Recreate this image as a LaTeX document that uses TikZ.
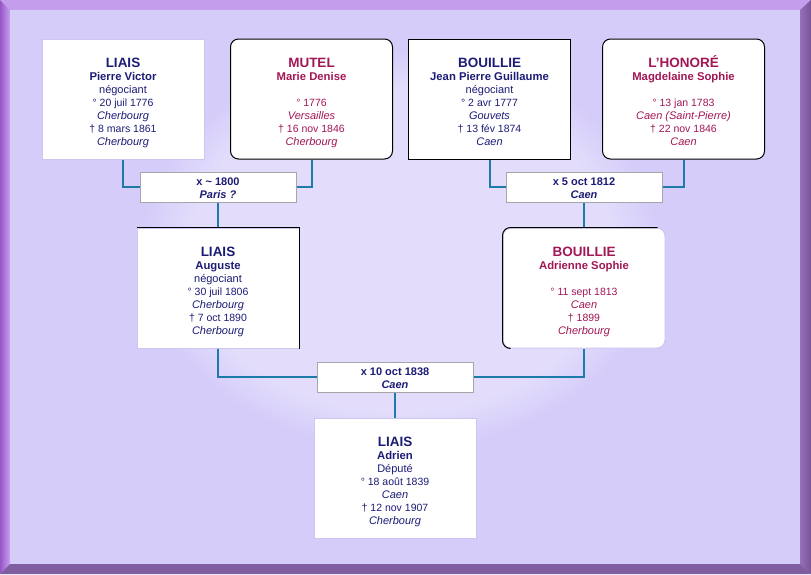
\documentclass[tikz,border=0pt]{standalone}
\usepackage{fontspec}
\setmainfont{Liberation Sans}
\usetikzlibrary{backgrounds,fadings}
\definecolor{navy}{RGB}{28,28,118}
\definecolor{rose}{RGB}{162,22,86}
\definecolor{lav}{RGB}{213,204,250}
\definecolor{conn}{RGB}{30,122,168}
\definecolor{mgray}{RGB}{165,165,170}
\definecolor{pale}{RGB}{205,198,240}
\definecolor{frtop}{RGB}{196,158,236}
\definecolor{frlA}{RGB}{150,86,200}
\definecolor{frlB}{RGB}{200,160,240}
\definecolor{frbot}{RGB}{128,92,160}
\definecolor{frrA}{RGB}{120,84,150}
\definecolor{frrB}{RGB}{150,112,185}
\newcommand{\sur}[1]{{\fontsize{13.5}{13}\selectfont\bfseries\rule{0pt}{14pt}#1}}
\newcommand{\nm}[1]{{\fontsize{11.3}{13}\selectfont\bfseries #1}}
\newcommand{\dt}[1]{{\fontsize{10.5}{13}\selectfont #1}}
\newcommand{\strt}{\rule{0pt}{11pt}}
\begin{document}
\begin{tikzpicture}[x=1pt,y=-1pt,
  box/.style={minimum width=162pt, minimum height=120pt, inner sep=0pt, fill=white, line width=1pt},
  mbox/.style={minimum width=156pt, minimum height=30pt, inner sep=0pt, fill=white, draw=mgray, line width=1pt},
  txt/.style={inner sep=0pt, align=center, anchor=north, font=\fontsize{11}{13}\selectfont},
  mtxt/.style={inner sep=0pt, align=center, anchor=north, font=\fontsize{11}{13}\selectfont\bfseries, text=navy},
  link/.style={draw=conn, line width=2pt}]
\useasboundingbox (0,0) rectangle (811,574);
\begin{pgfonlayer}{background}
\fill[frtop] (0,0) rectangle (811,574);
\fill[frtop] (0,0) -- (811,0) -- (800,10) -- (10,10) -- cycle;
\shade[left color=frlA, right color=frlB] (0,0) -- (10,10) -- (10,564) -- (0,574) -- cycle;
\fill[frbot] (0,574) -- (10,564) -- (800,564) -- (811,574) -- cycle;
\shade[left color=frrB, right color=frrA] (811,0) -- (800,10) -- (800,564) -- (811,574) -- cycle;
\fill[lav] (10,10) rectangle (800,564);
\fill[white, opacity=0.35, path fading=circle with fuzzy edge 20 percent] (400,250) ellipse (260pt and 200pt);
\end{pgfonlayer}

% generation 1
\node[box, draw=pale] (pv) at (123,99) {};
\node[box, draw=black, rounded corners=8pt] (mut) at (311.5,99) {};
\node[box, draw=black] (jpg) at (489.5,99) {};
\node[box, draw=black, rounded corners=8pt] (lho) at (683.5,99) {};

\node[txt, text=navy] (pvt) at (123,53) {\sur{LIAIS}\\ \nm{Pierre Victor}\\ négociant\\ \dt{° 20 juil 1776}\\ \textit{Cherbourg}\\ \dt{† 8 mars 1861}\\ \textit{Cherbourg}};
\node[txt, text=rose] (mutt) at (311.5,53) {\sur{MUTEL}\\ \nm{Marie Denise}\\[13pt] \dt{° 1776}\\ \textit{Versailles}\\ \dt{† 16 nov 1846}\\ \textit{Cherbourg}};
\node[txt, text=navy] (jpgt) at (489.5,53) {\sur{BOUILLIE}\\ \nm{Jean Pierre Guillaume}\\ négociant\\ \dt{° 2 avr 1777}\\ \textit{Gouvets}\\ \dt{† 13 fév 1874}\\ \textit{Caen}};
\node[txt, text=rose] (lhot) at (683.5,53) {\sur{L'HONORÉ}\\ \nm{Magdelaine Sophie}\\[13pt] \dt{° 13 jan 1783}\\ \textit{Caen (Saint-Pierre)}\\ \dt{† 22 nov 1846}\\ \textit{Caen}};

% marriages 1
\node[mbox] (m1) at (218,187) {};
\node[mtxt] (m1t) at (218,174) {\strt x \textasciitilde{} 1800\\ \textit{Paris ?}};
\node[mbox] (m2) at (584,187) {};
\node[mtxt] (m2t) at (584,174) {\strt x 5 oct 1812\\ \textit{Caen}};

% generation 2
\node[box, draw=pale] (aug) at (218,288) {};
\draw[black, line width=1pt] (aug.north west) -- (aug.north east) -- (aug.south east);
\node[box, draw=pale, rounded corners=8pt] (adr) at (584,288) {};
\draw[black, line width=1pt, rounded corners=8pt] ([xshift=8pt]adr.south west) -- (adr.south west) -- (adr.north west) -- ([xshift=-8pt]adr.north east);
\node[txt, text=navy] (augt) at (218,242) {\sur{LIAIS}\\ \nm{Auguste}\\ négociant\\ \dt{° 30 juil 1806}\\ \textit{Cherbourg}\\ \dt{† 7 oct 1890}\\ \textit{Cherbourg}};
\node[txt, text=rose] (adrt) at (584,242) {\sur{BOUILLIE}\\ \nm{Adrienne Sophie}\\[13pt] \dt{° 11 sept 1813}\\ \textit{Caen}\\ \dt{† 1899}\\ \textit{Cherbourg}};

% marriage 3
\node[mbox] (m3) at (395,377) {};
\node[mtxt] (m3t) at (395,364) {\strt x 10 oct 1838\\ \textit{Caen}};

% generation 3
\node[box, draw=pale] (adn) at (395,478) {};
\node[txt, text=navy] (adnt) at (395,432) {\sur{LIAIS}\\ \nm{Adrien}\\ Député\\ \dt{° 18 août 1839}\\ \textit{Caen}\\ \dt{† 12 nov 1907}\\ \textit{Cherbourg}};

\begin{pgfonlayer}{background}
\draw[link] (pv.south) |- (m1.west);
\draw[link] (mut.south) |- (m1.east);
\draw[link] (m1.south) -- (aug.north);
\draw[link] (jpg.south) |- (m2.west);
\draw[link] (lho.south) |- (m2.east);
\draw[link] (m2.south) -- (adr.north);
\draw[link] (aug.south) |- (m3.west);
\draw[link] (adr.south) |- (m3.east);
\draw[link] (m3.south) -- (adn.north);
\end{pgfonlayer}
\end{tikzpicture}
\end{document}
